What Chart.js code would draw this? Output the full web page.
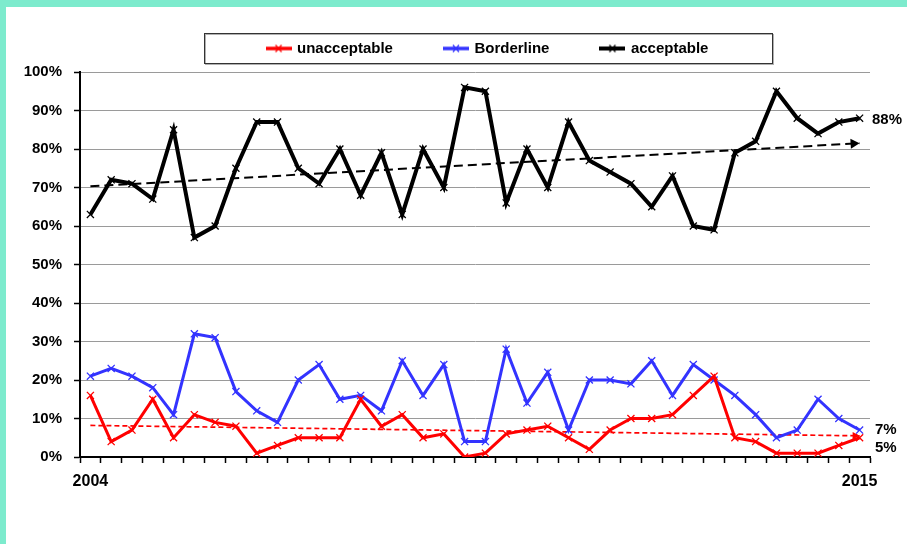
<!DOCTYPE html>
<html>
<head>
<meta charset="utf-8">
<script src="https://cdn.jsdelivr.net/npm/chart.js@4/dist/chart.umd.min.js"></script>
<style>
  html, body { margin: 0; padding: 0; background: #fff; }
  #frame {
    position: absolute; left: 0; top: 0;
    width: 901px; height: 537px;
    border-left: 6px solid #7DEBCD;
    border-top: 7px solid #7DEBCD;
    background: #fff;
  }
  canvas { display: block; }
</style>
</head>
<body>
<div id="frame"><canvas id="chart" width="901" height="537"></canvas></div>
<script>
// Share of results per review period, in percent
const unacceptable = [16, 4, 7, 15, 5, 11, 9, 8, 1, 3, 5, 5, 5, 15, 8, 11, 5, 6, 0, 1, 6, 7, 8, 5, 2, 7, 10, 10, 11, 16, 21, 5, 4, 1, 1, 1, 3, 5];
const borderline   = [21, 23, 21, 18, 11, 32, 31, 17, 12, 9, 20, 24, 15, 16, 12, 25, 16, 24, 4, 4, 28, 14, 22, 7, 20, 20, 19, 25, 16, 24, 20, 16, 11, 5, 7, 15, 10, 7];
const acceptable   = [63, 72, 71, 67, 85, 57, 60, 75, 87, 87, 75, 71, 80, 68, 79, 63, 80, 70, 96, 95, 66, 80, 70, 87, 77, 74, 71, 65, 73, 60, 59, 79, 82, 95, 88, 84, 87, 88];

// Linear trend lines: value at the first and at the last period
const trendAcceptable   = [70.3, 81.5];
const trendUnacceptable = [8.2, 5.5];

// Only the first and last periods carry a year label
const yearLabels = ['2004', '2015'];

const seriesNames = ['unacceptable', 'Borderline', 'acceptable'];

const RED = '#FF0000', BLUE = '#3333FF', BLACK = '#000000';
const FONT = "'Liberation Sans', Arial, sans-serif";

const n = acceptable.length;
const periodLabels = acceptable.map((_, i) => i === 0 ? yearLabels[0] : (i === n - 1 ? yearLabels[1] : ''));

// trend dataset: only the two end values, joined across the gap
const trendSeries = (ends) => acceptable.map((_, i) => i === 0 ? ends[0] : (i === n - 1 ? ends[1] : null));

// small line-with-cross swatch used as the legend symbol
function swatch(color, lw) {
  const c = document.createElement('canvas');
  c.width = 26; c.height = 10;
  const g = c.getContext('2d');
  g.strokeStyle = color;
  g.lineWidth = lw;
  g.beginPath(); g.moveTo(0, 5); g.lineTo(26, 5); g.stroke();
  g.lineWidth = 1.2;
  g.beginPath();
  g.moveTo(10, 1.5); g.lineTo(16, 8.5);
  g.moveTo(16, 1.5); g.lineTo(10, 8.5);
  g.stroke();
  return c;
}
const swatches = [swatch(RED, 3.5), swatch(BLUE, 3.5), swatch(BLACK, 4)];

const LEGEND_BOX = { left: 198, top: 26, width: 568, height: 30 };

// Frame the legend and place it in its box above the plot
const legendFrame = {
  id: 'legendFrame',
  afterLayout(chart) {
    const lg = chart.legend;
    const box = LEGEND_BOX;
    const pad = lg.options.labels.padding;
    const fs = lg.options.labels.font.size;
    lg.left = box.left;
    lg.right = box.left + box.width;
    lg.width = box.width;
    lg.top = box.top + box.height / 2 + 0.5 - pad - fs / 2;
    lg.bottom = box.top + box.height;
    lg.height = lg.bottom - lg.top;
  },
  afterDraw(chart) {
    const ctx = chart.ctx;
    const b = LEGEND_BOX;
    ctx.save();
    ctx.strokeStyle = '#b0b0b0';
    ctx.lineWidth = 1;
    ctx.strokeRect(b.left + 1.5, b.top + 1.5, b.width, b.height);
    ctx.strokeStyle = '#333333';
    ctx.strokeRect(b.left + 0.5, b.top + 0.5, b.width, b.height);
    ctx.restore();
  }
};

// Arrowheads at the end of the trend lines
const trendArrows = {
  id: 'trendArrows',
  afterDatasetsDraw(chart) {
    const ctx = chart.ctx;
    chart.data.datasets.forEach((ds, i) => {
      if (!ds.arrowSize) return;
      const pts = chart.getDatasetMeta(i).data;
      const a = pts[0], b = pts[pts.length - 1];
      const ang = Math.atan2(b.y - a.y, b.x - a.x);
      const L = ds.arrowSize, W = ds.arrowSize * 0.55;
      ctx.save();
      ctx.fillStyle = ds.borderColor;
      ctx.translate(b.x, b.y);
      ctx.rotate(ang);
      ctx.beginPath();
      ctx.moveTo(0, 0);
      ctx.lineTo(-L, -W);
      ctx.lineTo(-L, W);
      ctx.closePath();
      ctx.fill();
      ctx.restore();
    });
  }
};

// Last-period values printed to the right of the plot
const endValues = {
  id: 'endValues',
  afterDatasetsDraw(chart) {
    const ctx = chart.ctx;
    const y = chart.scales.y;
    const right = chart.chartArea.right;
    const items = [
      { v: acceptable[n - 1], dx: 2, dy: 2 },
      { v: borderline[n - 1], dx: 5, dy: 0 },
      { v: unacceptable[n - 1], dx: 5, dy: 10 }
    ];
    ctx.save();
    ctx.font = 'bold 15px ' + FONT;
    ctx.fillStyle = '#000';
    ctx.textAlign = 'left';
    ctx.textBaseline = 'middle';
    items.forEach(it => ctx.fillText(it.v + '%', right + it.dx, y.getPixelForValue(it.v) + it.dy));
    ctx.restore();
  }
};

const lineStyle = (color, width) => ({
  borderColor: color,
  backgroundColor: color,
  borderWidth: width,
  pointStyle: 'crossRot',
  pointRadius: 5,
  pointBorderWidth: 1.3,
  pointBorderColor: color,
  tension: 0,
  fill: false
});

new Chart(document.getElementById('chart'), {
  type: 'line',
  data: {
    labels: periodLabels,
    datasets: [
      Object.assign({ label: seriesNames[0], data: unacceptable }, lineStyle(RED, 3)),
      Object.assign({ label: seriesNames[1], data: borderline }, lineStyle(BLUE, 3)),
      Object.assign({ label: seriesNames[2], data: acceptable }, lineStyle(BLACK, 4)),
      {
        label: 'trend acceptable', data: trendSeries(trendAcceptable), spanGaps: true,
        borderColor: BLACK, borderWidth: 2, borderDash: [9, 5], pointRadius: 0, arrowSize: 9
      },
      {
        label: 'trend unacceptable', data: trendSeries(trendUnacceptable), spanGaps: true,
        borderColor: RED, borderWidth: 1.7, borderDash: [5, 3], pointRadius: 0, arrowSize: 7
      }
    ]
  },
  options: {
    responsive: false,
    animation: false,
    devicePixelRatio: 1,
    layout: { padding: { left: 0, right: 37, top: 35, bottom: 0 } },
    plugins: {
      tooltip: { enabled: false },
      legend: {
        position: 'top',
        maxHeight: 30,
        labels: {
          font: { family: FONT, size: 15, weight: 'bold' },
          color: '#000',
          padding: 52,
          usePointStyle: true,
          pointStyleWidth: 22,
          filter: (item) => item.datasetIndex < 3,
          generateLabels(chart) {
            const items = Chart.defaults.plugins.legend.labels.generateLabels(chart);
            items.forEach(it => { if (it.datasetIndex < 3) it.pointStyle = swatches[it.datasetIndex]; });
            return items;
          }
        }
      }
    },
    scales: {
      x: {
        offset: true,
        grid: {
          display: true, drawOnChartArea: false, drawTicks: true,
          tickLength: 6, tickColor: '#000', tickWidth: 1.5, offset: true
        },
        border: { display: true, color: '#000', width: 2 },
        ticks: {
          autoSkip: false, maxRotation: 0, minRotation: 0, padding: 9,
          color: '#000', font: { family: FONT, size: 16, weight: 'bold' }
        },
        afterFit(scale) { scale.height = 87; }
      },
      y: {
        min: 0, max: 100,
        grid: { color: '#9a9a9a', lineWidth: 1, tickLength: 6, tickColor: '#000', tickWidth: 1.5 },
        border: { display: true, color: '#000', width: 2 },
        ticks: {
          stepSize: 10, padding: 12, color: '#000',
          font: { family: FONT, size: 15, weight: 'bold' },
          callback: (v) => v + '%'
        },
        afterFit(scale) { scale.width = 74; }
      }
    }
  },
  plugins: [legendFrame, trendArrows, endValues]
});
</script>
</body>
</html>
